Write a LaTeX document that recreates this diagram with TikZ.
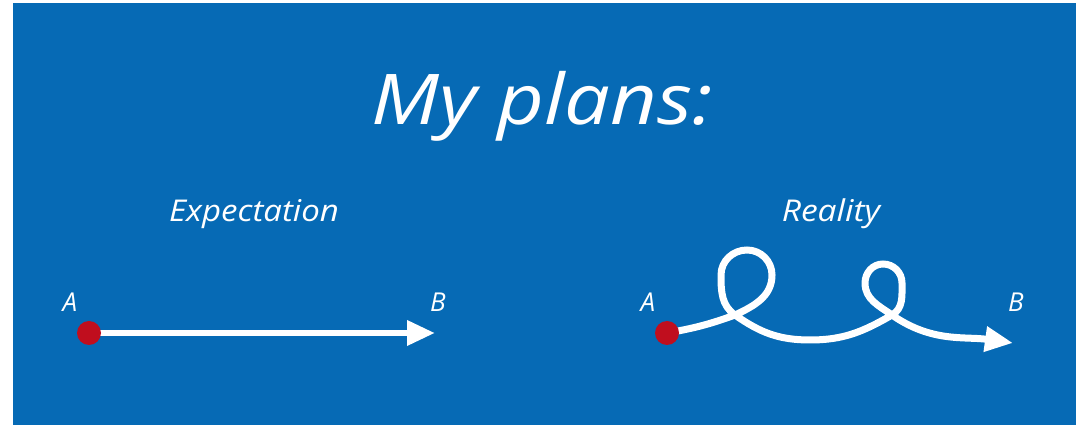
\documentclass[tikz,border=0pt]{standalone}
\usepackage{fontspec}
\setmainfont{Open Sans}
\usetikzlibrary{arrows.meta}
\definecolor{bgblue}{RGB}{6,106,181}
\definecolor{dotred}{RGB}{192,14,30}
\begin{document}
\begin{tikzpicture}[x=1pt,y=1pt,
  lbl/.style={text=white,font=\itshape,anchor=base,inner sep=0pt},
  path/.style={draw=white,line width=7pt,-{Triangle[length=28pt,width=24pt]}},
  dot/.style={circle,fill=dotred,minimum size=24pt,inner sep=0pt}]
\useasboundingbox (0,0) rectangle (1076,425);
\fill[bgblue] (13,0) rectangle (1076,422);
\node[lbl,font=\itshape\fontsize{70}{80}\selectfont] (title) at (542,300) {\scalebox{1.16}[1]{My plans:}};
\node[lbl,font=\itshape\fontsize{30}{36}\selectfont] (exp) at (254,203) {\scalebox{1.1}[1]{Expectation}};
\node[lbl,font=\itshape\fontsize{30}{36}\selectfont] (real) at (831,203) {\scalebox{1.12}[1]{Reality}};
% left
\node[lbl,font=\itshape\fontsize{26}{30}\selectfont] (la) at (70,113) {A};
\node[lbl,font=\itshape\fontsize{26}{30}\selectfont] (lb) at (438,113) {B};
\coordinate (a1) at (89,92);
\coordinate (b1) at (435,92);
\draw[path,line width=6.5pt] (a1) -- (b1);
\node[dot] (d1) at (a1) {};
% right
\node[lbl,font=\itshape\fontsize{26}{30}\selectfont] (ra) at (648,113) {A};
\node[lbl,font=\itshape\fontsize{26}{30}\selectfont] (rb) at (1016,113) {B};
\coordinate (a2) at (667,92);
\coordinate (c1) at (735,110);
\coordinate (r1) at (772,150);
\coordinate (t1) at (747,175);
\coordinate (l1) at (721,150);
\coordinate (v) at (810,85);
\coordinate (c2) at (892,110);
\coordinate (r2) at (902,142);
\coordinate (t2) at (883,161);
\coordinate (l2) at (865,142);
\coordinate (b2) at (1013,82);
\draw[path] (a2) to[out=10,in=200] (c1) to[out=25,in=-90] (r1) to[out=90,in=0] (t1)
  to[out=180,in=90] (l1) to[out=-90,in=145] (c1) to[out=-35,in=180] (v)
  to[out=0,in=210] (c2) to[out=30,in=-90] (r2) to[out=90,in=0] (t2)
  to[out=180,in=90] (l2) to[out=-90,in=145] (c2) to[out=-35,in=172] (b2);
\node[dot] (d2) at (a2) {};
\end{tikzpicture}
\end{document}
